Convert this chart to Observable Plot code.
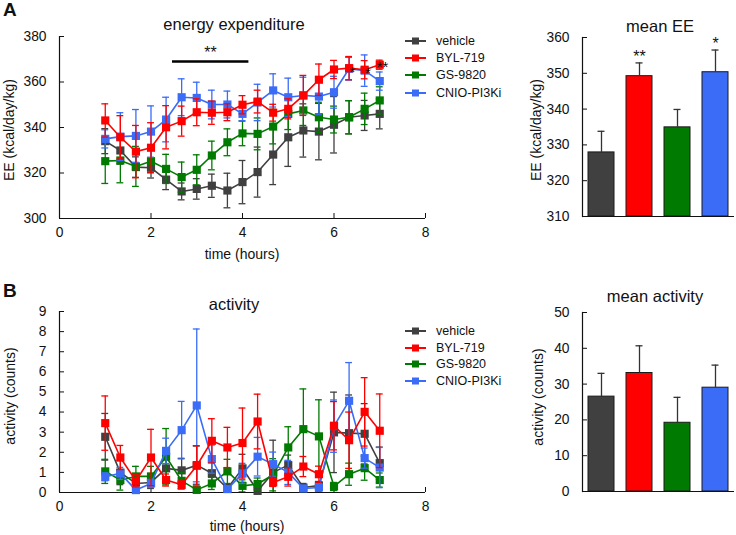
<!DOCTYPE html>
<html><head><meta charset="utf-8">
<script src="https://cdn.jsdelivr.net/npm/d3@7"></script>
<script src="https://cdn.jsdelivr.net/npm/@observablehq/plot@0.6"></script>
<style>
body{margin:0;background:#fff;font-family:"Liberation Sans",Arial,sans-serif;color:#111;}
#page{position:relative;width:736px;height:535px;overflow:hidden;background:#fff;}
.abs{position:absolute;}
.title{position:absolute;font-size:16.5px;line-height:1;white-space:nowrap;transform:translateX(-50%);}
.letter{position:absolute;font-size:19px;line-height:1;font-weight:bold;}
.axl{position:absolute;font-size:14px;line-height:1;white-space:nowrap;transform:translate(-50%,-50%);}
.axl.rot{transform:translate(-50%,-50%) rotate(-90deg);}
.legrow{position:absolute;height:16px;display:flex;align-items:center;font-size:12.5px;white-space:nowrap;}
.legrow svg{margin-right:10px;}
</style></head><body><div id="page"></div>
<script>
// ---------- data ----------
const groups = ["vehicle", "BYL-719", "GS-9820", "CNIO-PI3Ki"];
const colors = ["#404040", "#ff0000", "#007a00", "#3a6cf8"];
const times = [1, 1.33, 1.67, 2, 2.33, 2.67, 3, 3.33, 3.67, 4, 4.33, 4.67, 5, 5.33, 5.67, 6, 6.33, 6.67, 7];

// energy expenditure (kcal/day/kg)
const eeVehicle    = [334, 329.9, 322.6, 322.3, 317.1, 311.9, 313, 314.4, 312.3, 316, 320.4, 328.1, 335.7, 338.7, 338.2, 341.2, 344.5, 345.3, 346];
const eeVehicleErr = [5.5, 6, 4.5, 4.5, 4.4, 3.7, 4.5, 5.1, 7.6, 9.5, 11, 13.2, 12.8, 11.7, 12.4, 12.4, 7.3, 6.6, 6.6];
const eeByl        = [343.1, 335.7, 329.4, 331.1, 340.1, 342.8, 346.7, 346.5, 346.7, 350, 351.4, 346.5, 348.2, 354.1, 361, 365.5, 366.1, 365.4, 367.6];
const eeBylErr     = [7.3, 9.5, 11.5, 11, 9.5, 6.6, 5.9, 5.1, 3.7, 4, 5, 3.7, 4.4, 8.8, 6.9, 4, 5.1, 4, 2];
const eeGs         = [325.2, 325.5, 322.9, 325.2, 321.8, 318.2, 321.4, 327.7, 333.5, 337.4, 337.2, 340.4, 346, 347.5, 344.5, 343.5, 344.5, 348.2, 351.9];
const eeGsErr      = [9.8, 9.8, 8.8, 5, 6.4, 6.6, 6.6, 6.3, 5.9, 5.4, 7, 7.6, 6.9, 6.6, 6.6, 5.9, 7.3, 6.9, 6];
const eeCnio       = [335, 336, 336.3, 338.2, 343.5, 353.3, 353, 350.1, 350.1, 346, 351, 356.3, 353.3, 354.1, 353.6, 355.5, 365.8, 365, 360.4];
const eeCnioErr    = [4, 10.5, 11.6, 11.3, 9.8, 8.1, 6.9, 6.3, 5.9, 3, 8, 7.3, 8.4, 8, 8, 7, 5, 6.9, 4];

// activity (counts)
const actVehicle    = [2.77, 0.99, 0.45, 0.5, 1.2, 1.1, 1.36, 0.96, 0.2, 1.2, 0.08, 1.0, 1.36, 0.25, 0.35, 2.99, 2.95, 2.92, 1.46];
const actVehicleErr = [1.16, 0.6, 0.3, 0.3, 0.5, 0.6, 0.95, 0.6, 0.2, 0.7, 0.1, 1.6, 0.5, 0.2, 0.2, 2.0, 1.9, 1.5, 0.8];
const actByl        = [3.45, 1.74, 0.58, 1.74, 0.62, 0.38, 1.33, 2.57, 2.24, 2.46, 3.53, 0.5, 0.78, 1.29, 0.91, 3.32, 2.6, 4.01, 3.07];
const actBylErr     = [1.35, 0.6, 0.3, 1.4, 0.3, 0.2, 1.0, 1.1, 1.0, 1.74, 1.36, 0.2, 0.46, 0.5, 0.4, 1.2, 1.4, 1.7, 1.83];
const actGs         = [1.05, 0.62, 0.8, 0.8, 1.78, 0.58, 0.13, 0.45, 1.05, 0.33, 0.42, 0.88, 2.24, 3.15, 2.79, 0.3, 0.91, 1.21, 0.62];
const actGsErr      = [0.6, 0.5, 0.5, 0.5, 1.4, 0.4, 0.1, 0.3, 0.6, 0.3, 0.3, 0.8, 1.03, 2.0, 1.82, 0.2, 0.55, 0.6, 0.35];
const actCnio       = [0.78, 0.95, 0.12, 0.45, 2.07, 3.1, 4.33, 1.66, 0.17, 0.95, 1.78, 1.41, 1.0, 0.2, 0.25, 3.3, 4.56, 1.71, 1.24];
const actCnioErr    = [0.2, 0.3, 0.1, 0.2, 0.63, 1.43, 3.8, 0.7, 0.1, 0.5, 0.96, 0.6, 0.6, 0.1, 0.2, 1.3, 1.9, 0.5, 1.0];

// means
const meanEE       = [327.9, 349.2, 334.9, 350.3];
const meanEEErr    = [5.9, 3.7, 5.0, 6.2];
const meanAct      = [26.5, 33.1, 19.2, 29.0];
const meanActErr   = [6.5, 7.6, 7.1, 6.3];

// annotations
const sigLine   = [{x1: 2.47, x2: 4.14, y: 369}];
const sigText   = [{x: 3.3, y: 374.3, s: "**"}];
const pointStars = [{x: 6.4, y: 365.8, s: "*"}, {x: 6.74, y: 365, s: "*"}, {x: 7.06, y: 367.7, s: "**"}];
const meanEEStars = [{g: "BYL-719", y: 355.4, s: "**"}, {g: "CNIO-PI3Ki", y: 359.1, s: "*"}];

// tick labels
const xTicks = [0, 2, 4, 6, 8];
const eeTicks = [300, 320, 340, 360, 380];
const actTicks = [0, 1, 2, 3, 4, 5, 6, 7, 8, 9];
const meanEETicks = [310, 320, 330, 340, 350, 360];
const meanActTicks = [0, 10, 20, 30, 40, 50];

// ---------- drawing ----------
const page = document.getElementById("page");
const FONT = "Liberation Sans, Arial, sans-serif";
const AXFS = 13.8;
const drawOrder = [0, 2, 3, 1]; // vehicle, GS, CNIO, BYL on top
const capHalf = 0.075;

function place(node, left, top) {
  const d = document.createElement("div");
  d.className = "abs"; d.style.left = left + "px"; d.style.top = top + "px";
  d.appendChild(node); page.appendChild(d);
}

function seriesMarks(vals, errs, color) {
  const rows = times.map((t, i) => ({t, v: vals[i], e: errs[i]}));
  return [
    Plot.ruleX(rows, {x: "t", y1: d => d.v - d.e, y2: d => d.v + d.e, stroke: color, strokeWidth: 1.3, clip: true}),
    Plot.ruleY(rows, {y: d => d.v + d.e, x1: d => d.t - capHalf, x2: d => d.t + capHalf, stroke: color, strokeWidth: 1.3, clip: true}),
    Plot.ruleY(rows, {y: d => d.v - d.e, x1: d => d.t - capHalf, x2: d => d.t + capHalf, stroke: color, strokeWidth: 1.3, clip: true}),
    Plot.line(rows, {x: "t", y: "v", stroke: color, strokeWidth: 1.6}),
    Plot.dot(rows, {x: "t", y: "v", symbol: "square", r: 4.6, fill: color, stroke: "none"})
  ];
}

function linePlot({series, yDomain, yTicks, height, marginTop, marginBottom, extra}) {
  const marks = [
    Plot.axisX({ticks: xTicks, tickSize: -5, tickPadding: 14, label: null, fontSize: AXFS}),
    Plot.axisY({ticks: yTicks, tickSize: -5, tickPadding: 18, label: null, fontSize: AXFS}),
    Plot.ruleX([xTicks[0]], {stroke: "#111", strokeWidth: 1.2}),
    Plot.ruleY([yDomain[0]], {stroke: "#111", strokeWidth: 1.2})
  ];
  drawOrder.forEach(i => marks.push(...seriesMarks(series[i][0], series[i][1], colors[i])));
  marks.push(...(extra || []));
  return Plot.plot({
    width: 440, height, marginLeft: 59, marginRight: 15, marginTop, marginBottom,
    x: {domain: [xTicks[0], xTicks[xTicks.length - 1]]},
    y: {domain: yDomain},
    style: {fontFamily: FONT, fontSize: "14px", color: "#111", background: "transparent", overflow: "visible"},
    marks
  });
}

function barPlot({means, errs, yDomain, yTicks, height, marginTop, marginBottom, stars}) {
  const rows = groups.map((g, i) => ({g, m: means[i], e: errs[i]}));
  return Plot.plot({
    width: 236, height, marginLeft: 82, marginRight: 2, marginTop, marginBottom,
    x: {domain: groups, paddingInner: 0.31, paddingOuter: 0.155, axis: null},
    y: {domain: yDomain},
    color: {domain: groups, range: colors},
    style: {fontFamily: FONT, fontSize: "14px", color: "#111", background: "transparent", overflow: "visible"},
    marks: [
      Plot.axisY({ticks: yTicks, tickSize: -5, tickPadding: 18, label: null, fontSize: AXFS}),
      Plot.barY(rows, {x: "g", y1: yDomain[0], y2: "m", fill: "g", stroke: "#1a1a1a", strokeWidth: 1}),
      Plot.ruleX(rows, {x: "g", y1: "m", y2: d => d.m + d.e, stroke: "#333", strokeWidth: 1.3}),
      Plot.tickY(rows, {x: "g", y: d => d.m + d.e, insetLeft: 9.5, insetRight: 9.5, stroke: "#333", strokeWidth: 1.3}),
      Plot.text(stars || [], {x: "g", y: "y", text: "s", fontSize: 16, dy: 3}),
      Plot.frame({anchor: "left", stroke: "#111", strokeWidth: 1.2}),
      Plot.ruleY([yDomain[0]], {stroke: "#111", strokeWidth: 1.2})
    ]
  });
}

// Panel A: energy expenditure
place(linePlot({
  series: [[eeVehicle, eeVehicleErr], [eeByl, eeBylErr], [eeGs, eeGsErr], [eeCnio, eeCnioErr]],
  yDomain: [eeTicks[0], eeTicks[eeTicks.length - 1]], yTicks: eeTicks,
  height: 270, marginTop: 36, marginBottom: 52,
  extra: [
    Plot.ruleY(sigLine, {y: "y", x1: "x1", x2: "x2", stroke: "#000", strokeWidth: 2.5}),
    Plot.text(sigText, {x: "x", y: "y", text: "s", fontSize: 16, dy: 3}),
    Plot.text(pointStars, {x: "x", y: "y", text: "s", fontSize: 15, dy: 3})
  ]
}), 0, 0);

place(barPlot({
  means: meanEE, errs: meanEEErr, yDomain: [meanEETicks[0], meanEETicks[meanEETicks.length - 1]],
  yTicks: meanEETicks, height: 260, marginTop: 37, marginBottom: 44, stars: meanEEStars
}), 500, 0);

// Panel B: activity
place(linePlot({
  series: [[actVehicle, actVehicleErr], [actByl, actBylErr], [actGs, actGsErr], [actCnio, actCnioErr]],
  yDomain: [actTicks[0], actTicks[actTicks.length - 1]], yTicks: actTicks,
  height: 265, marginTop: 41, marginBottom: 43
}), 0, 270);

place(barPlot({
  means: meanAct, errs: meanActErr, yDomain: [meanActTicks[0], meanActTicks[meanActTicks.length - 1]],
  yTicks: meanActTicks, height: 265, marginTop: 42, marginBottom: 44
}), 500, 270);

// titles, axis labels and panel letters
function addText(cls, txt, left, top) {
  const d = document.createElement("div");
  d.className = cls; d.textContent = txt; d.style.left = left + "px"; d.style.top = top + "px";
  page.appendChild(d);
}
addText("title", "energy expenditure", 234, 16.2);
addText("title", "mean EE", 660, 17.7);
addText("title", "activity", 234, 295.5);
addText("title", "mean activity", 655, 288);
addText("letter", "A", 3, 0);
addText("letter", "B", 3, 281.2);

addText("axl", "time (hours)", 242, 254);
addText("axl", "time (hours)", 247, 526);
addText("axl rot", "EE (kcal/day/kg)", 9, 130);
addText("axl rot", "activity (counts)", 10, 396);
addText("axl rot", "EE (kcal/day/kg)", 535.5, 130);
addText("axl rot", "activity (counts)", 537.5, 397);

// legends
function legend(top0, step) {
  groups.forEach((g, i) => {
    const row = document.createElement("div");
    row.className = "legrow";
    row.style.left = "405px"; row.style.top = (top0 + i * step - 8) + "px";
    row.innerHTML = `<svg width="21" height="16"><line x1="0" x2="21" y1="8" y2="8" stroke="${colors[i]}" stroke-width="2"/><rect x="7" y="4.5" width="7" height="7" fill="${colors[i]}"/></svg><span>${g}</span>`;
    page.appendChild(row);
  });
}
legend(40.5, 17.4);
legend(331, 16.5);
</script></body></html>
